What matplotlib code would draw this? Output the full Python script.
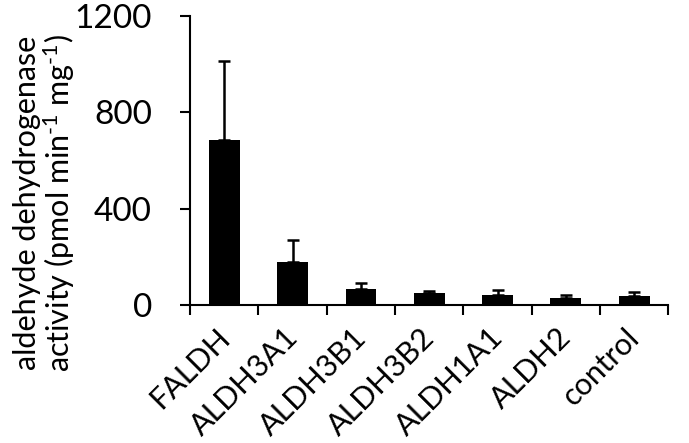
import matplotlib
matplotlib.use("Agg")
import matplotlib.pyplot as plt
import matplotlib.transforms as mtransforms
import numpy as np

categories = ["FALDH", "ALDH3A1", "ALDH3B1", "ALDH3B2", "ALDH1A1", "ALDH2", "control"]
values = [685, 180, 68, 48, 43, 30, 37]
errors = [330, 90, 22, 12, 19, 11, 17]
yticks = [0, 400, 800, 1200]

plt.rcParams['font.family'] = ['Lato', 'DejaVu Sans']
plt.rcParams['mathtext.fontset'] = 'custom'
plt.rcParams['mathtext.rm'] = 'Lato'
plt.rcParams['mathtext.it'] = 'Lato:italic'

fig = plt.figure(figsize=(6.89, 4.43), dpi=100)
ax = fig.add_axes([0.276, 0.3115, 0.694, 0.6525])

x = np.arange(len(categories))
ax.bar(x, values, width=0.45, color='black', zorder=2)
ax.errorbar(x, values, yerr=[np.zeros(len(errors)), errors], fmt='none',
            ecolor='black', elinewidth=1.8, capsize=4.5, capthick=1.8, zorder=1)

ax.set_xlim(-0.5, len(categories) - 0.5)
ax.set_ylim(0, 1200)
ax.set_yticks(yticks)
ax.set_yticklabels([str(t) for t in yticks], fontsize=24)

ax.set_xticks(x)
ax.set_xticklabels(categories, fontsize=22, rotation=45, ha='right', rotation_mode='anchor')
ax.tick_params(axis='x', which='major', length=0, pad=13)
ax.set_xticks(np.arange(-0.5, len(categories), 1.0), minor=True)
ax.tick_params(axis='x', which='minor', length=7.5, width=1.5, direction='out')
ax.tick_params(axis='y', which='major', length=7.5, width=1.5, direction='out', pad=20)

offset = mtransforms.ScaledTranslation(-9 / 100, 0, fig.dpi_scale_trans)
for lab in ax.get_xticklabels():
    lab.set_transform(lab.get_transform() + offset)

for s in ['top', 'right']:
    ax.spines[s].set_visible(False)
for s in ['left', 'bottom']:
    ax.spines[s].set_linewidth(1.5)

fig.text(0.065, 1 - 203 / 443,
         "aldehyde dehydrogenase\nactivity (pmol min$^{\\text{-}1}$ mg$^{\\text{-}1}$)",
         fontsize=22, rotation=90, ha='center', va='center', multialignment='center',
         linespacing=1.0)

fig.savefig("out.png", dpi=100)
